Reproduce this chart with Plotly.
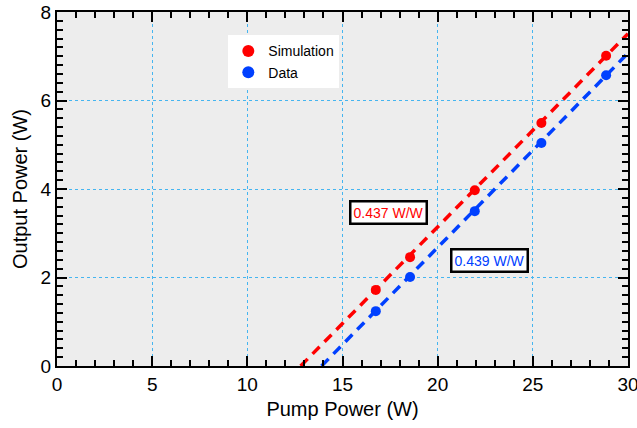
import plotly.graph_objects as go

pump_sim = [16.75, 18.55, 21.95, 25.45, 28.85]
out_sim = [1.72, 2.46, 3.97, 5.49, 7.01]
pump_data = [16.75, 18.55, 21.95, 25.45, 28.85]
out_data = [1.24, 2.01, 3.50, 5.04, 6.57]

fit_sim_x = [12.8, 30.0]
fit_sim_y = [0.0, 7.51]
fit_data_x = [13.9, 30.0]
fit_data_y = [0.0, 7.07]

slope_labels = ["0.437 W/W", "0.439 W/W"]

red = "#ff0000"
blue = "#0040ff"
font_family = "Liberation Sans, Arial"

fig = go.Figure()
fig.add_trace(go.Scatter(x=fit_sim_x, y=fit_sim_y, mode="lines", showlegend=False,
                         line=dict(color=red, width=3.5, dash="10px,7px")))
fig.add_trace(go.Scatter(x=fit_data_x, y=fit_data_y, mode="lines", showlegend=False,
                         line=dict(color=blue, width=3.5, dash="10px,7px")))
fig.add_trace(go.Scatter(x=pump_sim, y=out_sim, mode="markers", name="Simulation",
                         marker=dict(color=red, size=10)))
fig.add_trace(go.Scatter(x=pump_data, y=out_data, mode="markers", name="Data",
                         marker=dict(color=blue, size=10)))
# invisible trace that anchors the overlay axes used for minor ticks
fig.add_trace(go.Scatter(x=pump_data, y=out_data, mode="markers", xaxis="x2", yaxis="y2",
                         marker=dict(opacity=0), showlegend=False, hoverinfo="skip"))

axis_common = dict(
    showline=True, linecolor="black", linewidth=2, mirror="ticks",
    ticks="inside", ticklen=10, tickwidth=2, tickcolor="black",
    showgrid=True, gridcolor="#45b5f0", gridwidth=1, griddash="dot",
    zeroline=False, automargin=False, ticklabeloverflow="allow",
    tickfont=dict(family=font_family, size=19, color="black"),
    title_font=dict(family=font_family, size=20, color="black"),
)

minor_common = dict(
    showline=True, linecolor="black", linewidth=2, mirror="ticks",
    ticks="inside", ticklen=6, tickwidth=2, tickcolor="black",
    showgrid=False, zeroline=False, showticklabels=False, automargin=False,
)

fig.update_layout(
    width=637, height=428,
    margin=dict(l=57, r=9, t=12, b=62),
    paper_bgcolor="white", plot_bgcolor="#ededed",
    font=dict(family=font_family, color="black"),
    xaxis=dict(range=[0, 30], dtick=5, tick0=0, title_text="Pump Power (W)",
               title_standoff=8, **axis_common),
    yaxis=dict(range=[0, 8], dtick=2, tick0=0, title_text="Output Power (W)",
               title_standoff=8, **axis_common),
    xaxis2=dict(range=[0, 30], dtick=1, tick0=0, overlaying="x", anchor="y2",
                side="bottom", **minor_common),
    yaxis2=dict(range=[0, 8], dtick=0.2, tick0=0, overlaying="y", anchor="x2",
                side="left", **minor_common),
    legend=dict(x=0.30, y=0.934, xanchor="left", yanchor="top",
                bgcolor="white", borderwidth=0,
                font=dict(family=font_family, size=14, color="black"),
                itemsizing="constant", tracegroupgap=0),
)

fig.add_annotation(x=17.4, y=3.48, xref="x", yref="y", xanchor="center", yanchor="middle",
                   text=slope_labels[0], showarrow=False,
                   font=dict(family=font_family, size=14, color=red),
                   bgcolor="white", bordercolor="black", borderwidth=2.5, borderpad=2)
fig.add_annotation(x=22.7, y=2.38, xref="x", yref="y", xanchor="center", yanchor="middle",
                   text=slope_labels[1], showarrow=False,
                   font=dict(family=font_family, size=14, color=blue),
                   bgcolor="white", bordercolor="black", borderwidth=2.5, borderpad=2)

fig.write_html("out.html")
